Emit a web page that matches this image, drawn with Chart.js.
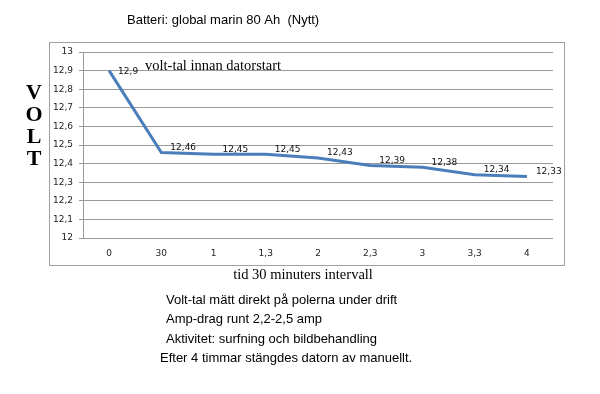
<!DOCTYPE html>
<html>
<head>
<meta charset="utf-8">
<script src="https://cdn.jsdelivr.net/npm/chart.js@4"></script>
<style>
  html, body { margin: 0; padding: 0; background: #fff; }
  #wrap { width: 600px; height: 394px; }
</style>
</head>
<body>
<div id="wrap"><canvas id="volt" width="600" height="394"></canvas></div>
<script>
// tid (30 minuters intervall)
const categories = ["0", "30", "1", "1,3", "2", "2,3", "3", "3,3", "4"];
const volt = [12.9, 12.46, 12.45, 12.45, 12.43, 12.39, 12.38, 12.34, 12.33];
const yMin = 12;
const yMax = 13;

const notes = [
    "Volt-tal mätt direkt på polerna under drift",
    "Amp-drag runt 2,2-2,5 amp",
    "Aktivitet: surfning och bildbehandling",
    "Efter 4 timmar stängdes datorn av manuellt."
];

function komma(v) {
    const r = Math.round(v * 100) / 100;
    return String(r).replace('.', ',');
}

// ram, rubriker, etiketter och text runt diagrammet
const extraText = {
    id: 'extraText',
    beforeDraw(chart) {
        const ctx = chart.ctx;
        ctx.save();
        ctx.strokeStyle = '#a0a0a0';
        ctx.lineWidth = 1;
        ctx.strokeRect(49.5, 42.5, 515, 223);
        ctx.restore();
    },
    afterDatasetsDraw(chart) {
        const ctx = chart.ctx;
        const meta = chart.getDatasetMeta(0);
        ctx.save();
        ctx.fillStyle = '#111';
        ctx.font = '9px "DejaVu Sans"';
        ctx.textAlign = 'left';
        ctx.textBaseline = 'middle';
        meta.data.forEach((pt, i) => {
            const dy = i === 0 ? 1 : -5;
            ctx.fillText(komma(volt[i]), pt.x + 9, pt.y + dy);
        });
        ctx.restore();
    },
    afterDraw(chart) {
        const ctx = chart.ctx;
        ctx.save();
        ctx.fillStyle = '#000';
        ctx.textBaseline = 'middle';

        ctx.font = '13px "Liberation Sans"';
        ctx.textAlign = 'left';
        ctx.fillText('Batteri: global marin 80 Ah  (Nytt)', 127, 20);

        ctx.font = '14.5px "Liberation Serif"';
        ctx.fillText('volt-tal innan datorstart', 145, 66);

        ctx.textAlign = 'center';
        ctx.fillText('tid 30 minuters intervall', 303, 275);

        ctx.font = 'bold 22px "Liberation Serif"';
        ['V', 'O', 'L', 'T'].forEach((ch, i) => {
            ctx.fillText(ch, 34, 93 + i * 22);
        });

        ctx.font = '13px "Liberation Sans"';
        ctx.textAlign = 'left';
        notes.forEach((line, i) => {
            const x = i === 3 ? 160 : 166;
            ctx.fillText(line, x, 300 + i * 19.5);
        });
        ctx.restore();
    }
};

new Chart(document.getElementById('volt'), {
    type: 'line',
    data: {
        labels: categories,
        datasets: [{
            label: 'Volt',
            data: volt,
            borderColor: '#4a7ebb',
            borderWidth: 3,
            pointRadius: 0,
            tension: 0,
            fill: false
        }]
    },
    options: {
        responsive: false,
        animation: false,
        layout: {
            padding: { left: 0, top: 52, right: 47, bottom: 0 }
        },
        plugins: {
            legend: { display: false },
            tooltip: { enabled: false }
        },
        scales: {
            x: {
                offset: true,
                grid: { display: false, drawTicks: false },
                border: { display: false },
                ticks: {
                    padding: 10,
                    color: '#222',
                    font: { family: 'DejaVu Sans', size: 9 },
                    maxRotation: 0
                },
                afterFit(scale) { scale.height = 156; }
            },
            y: {
                min: yMin,
                max: yMax,
                grid: { color: '#9a9a9a', tickLength: 4 },
                border: { color: '#9a9a9a' },
                ticks: {
                    stepSize: 0.1,
                    padding: 6,
                    color: '#222',
                    font: { family: 'DejaVu Sans', size: 9 },
                    callback: (v) => komma(Math.round(v * 10) / 10)
                },
                afterFit(scale) { scale.width = 83; }
            }
        }
    },
    plugins: [extraText]
});
</script>
</body>
</html>
